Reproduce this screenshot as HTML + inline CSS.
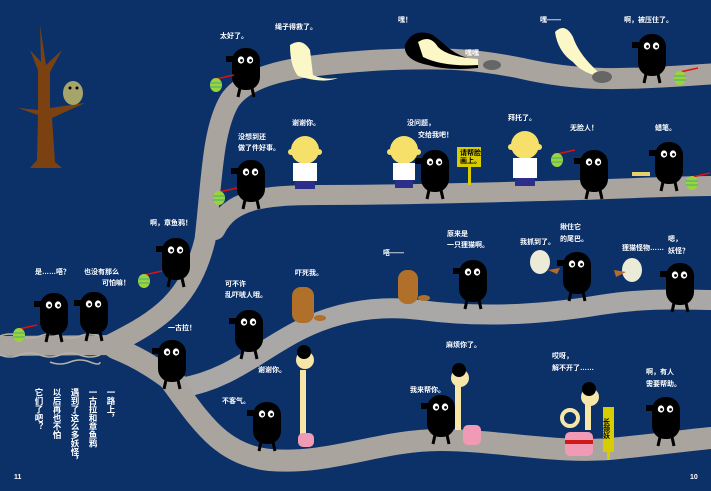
<!DOCTYPE html>
<html><head><meta charset="utf-8"><style>
html,body{margin:0;padding:0;background:#0c3169;}
svg{display:block}
text{font-family:"Liberation Sans","Noto Sans CJK SC",sans-serif;fill:#fff;font-size:7px;font-weight:bold}
.v{font-size:8.5px;writing-mode:tb;letter-spacing:0}
</style></head><body>
<svg width="711" height="491" viewBox="0 0 711 491" xmlns="http://www.w3.org/2000/svg">
<defs>
<g id="b">
<rect x="0" y="0" width="28" height="42" rx="13" fill="#000"/>
<rect x="-6" y="8" width="8" height="6" fill="#000"/>
<path d="M8 40 l-2 9 M20 40 l2 9" stroke="#000" stroke-width="3" fill="none"/>
<ellipse cx="9" cy="12" rx="3.2" ry="3.6" fill="#fff"/><ellipse cx="18" cy="12" rx="3.2" ry="3.6" fill="#fff"/>
<circle cx="9.5" cy="12.5" r="1.4" fill="#000"/><circle cx="18.5" cy="12.5" r="1.4" fill="#000"/>
</g>
<g id="lan"><line x1="0" y1="-6" x2="18" y2="-10" stroke="#d11" stroke-width="1.5"/><ellipse cx="0" cy="0" rx="6" ry="7" fill="#9ad43a"/><path d="M-6 -2h12M-6 2h12" stroke="#4a8" stroke-width="1"/></g>
<g id="head"><circle cx="0" cy="0" r="14" fill="#f6e06a"/><circle cx="-14" cy="2" r="3" fill="#f6e06a"/><circle cx="14" cy="2" r="3" fill="#f6e06a"/></g>
<g id="ghostS"><ellipse cx="0" cy="0" rx="10" ry="12" fill="#ecebd8"/></g>
</defs>
<rect width="711" height="491" fill="#0c3169"/>
<g fill="none" stroke="#aaa49e" stroke-linecap="round">
<path d="M0 346 L120 345" stroke-width="20"/>
<path d="M110 345 C160 320 190 300 205 240 C212 180 212 130 230 100 C250 72 300 65 380 60 C450 57 480 60 520 68 C580 82 620 80 711 74" stroke-width="21"/>
<path d="M215 230 C230 200 260 195 320 195 C420 195 500 192 580 190 C640 188 680 186 711 186" stroke-width="20"/>
<path d="M115 348 C150 362 170 380 185 390" stroke-width="22"/>
<path d="M180 388 C230 380 260 350 300 330 C340 310 380 305 420 310 C480 318 540 315 600 305 C650 297 690 300 711 300" stroke-width="20" stroke="#a9a8a6"/>
<path d="M170 380 C200 420 220 455 270 460 C330 465 380 440 440 440 C500 440 560 455 620 448 C660 444 690 440 711 438" stroke-width="22"/>
</g>
<path d="M0 336 q10 -4 20 0 t20 0 t20 0 t20 0 t20 0 M0 355 q10 4 20 0 t20 0 t20 0 t20 0 t20 0 M50 362 q10 4 20 0 t20 0 t10 0" stroke="#b7b2aa" stroke-width="1.5" fill="none"/>
<path d="M40 25 L46 65 L62 50 L50 72 L50 108 L85 103 L52 118 L55 162 L62 168 L30 168 L37 160 L38 115 L18 108 L38 110 L38 70 L30 50 L41 62 Z" fill="#7b4111"/>
<ellipse cx="73" cy="93" rx="10" ry="12" fill="#a5a46a"/><circle cx="70" cy="88" r="1.5" fill="#000"/><circle cx="77" cy="88" r="1.5" fill="#000"/>
<path d="M290 45 q12 -8 20 5 l3 25 q10 5 25 3 q-15 6 -40 -2 q-8 -10 -8 -31 z" fill="#fbf7c6"/>
<path d="M555 32 q10 -10 18 5 q5 15 20 30 l10 10 q-20 -3 -30 -15 q-15 -10 -18 -30z" fill="#fbf7c6"/>
<path d="M405 45 q8 -18 28 -10 l10 8 q15 15 35 17 l0 8 q-30 3 -50 -3 q-25 -5 -23 -20z" fill="#000"/>
<path d="M418 42 q12 -8 20 5 q10 10 40 12 l0 6 q-35 2 -55 -8z" fill="#fbf7c6"/>
<ellipse cx="492" cy="65" rx="9" ry="5" fill="#666"/><ellipse cx="602" cy="77" rx="10" ry="6" fill="#666"/>
<use href="#b" x="232" y="48"/><use href="#lan" x="216" y="85"/>
<use href="#b" x="237" y="160"/><use href="#lan" x="219" y="198"/>
<use href="#b" x="421" y="150"/>
<use href="#b" x="580" y="150"/><use href="#lan" x="557" y="160"/>
<use href="#b" x="655" y="142"/><use href="#lan" x="692" y="183"/>
<use href="#b" x="638" y="34"/><use href="#lan" x="680" y="78"/>
<use href="#b" x="162" y="238"/><use href="#lan" x="144" y="281"/>
<use href="#b" x="40" y="293"/><use href="#lan" x="19" y="335"/>
<use href="#b" x="80" y="292"/>
<use href="#b" x="158" y="340"/>
<use href="#b" x="235" y="310"/>
<use href="#b" x="253" y="402"/>
<use href="#b" x="459" y="260"/>
<use href="#b" x="563" y="252"/>
<use href="#b" x="666" y="263"/>
<use href="#b" x="427" y="395"/>
<use href="#b" x="652" y="397"/>
<g transform="translate(305,150)"><use href="#head"/><rect x="-12" y="13" width="24" height="18" fill="#fff"/><rect x="-10" y="31" width="20" height="8" fill="#2b2f8a"/></g>
<g transform="translate(404,150)"><use href="#head"/><rect x="-11" y="13" width="22" height="17" fill="#fff"/><rect x="-9" y="30" width="18" height="8" fill="#2b2f8a"/></g>
<g transform="translate(525,145)"><use href="#head"/><rect x="-12" y="13" width="24" height="20" fill="#fff"/><rect x="-10" y="33" width="20" height="8" fill="#2b2f8a"/></g>
<rect x="457" y="147" width="24" height="20" fill="#d6cc00"/><rect x="468" y="167" width="3" height="18" fill="#d6cc00"/>
<rect x="632" y="172" width="18" height="4" fill="#e8d06a"/>
<g fill="#b0702a"><rect x="292" y="287" width="22" height="36" rx="9"/><ellipse cx="320" cy="318" rx="6" ry="3"/><rect x="398" y="270" width="20" height="34" rx="9"/><ellipse cx="424" cy="298" rx="6" ry="3"/></g>
<use href="#ghostS" x="540" y="262"/><use href="#ghostS" x="632" y="270"/>
<path d="M548 270 l12 -2 l-3 6z M614 270 l12 2 l-10 5z" fill="#b86a2a"/>
<g fill="#f6e6a8"><rect x="300" y="370" width="6" height="65"/><rect x="455" y="385" width="6" height="45"/><circle cx="570" cy="418" r="8" fill="none" stroke="#f6e6a8" stroke-width="4"/><rect x="585" y="400" width="6" height="30"/></g>
<circle cx="305" cy="360" r="9" fill="#f6e6a8"/><circle cx="304" cy="352" r="7" fill="#000"/>
<circle cx="460" cy="378" r="9" fill="#f6e6a8"/><circle cx="459" cy="370" r="7" fill="#000"/>
<circle cx="590" cy="397" r="9" fill="#f6e6a8"/><circle cx="589" cy="389" r="7" fill="#000"/>
<rect x="298" y="433" width="16" height="14" rx="5" fill="#f09ab6"/>
<rect x="463" y="425" width="18" height="20" rx="5" fill="#f09ab6"/>
<rect x="565" y="432" width="28" height="24" rx="5" fill="#f09ab6"/><rect x="565" y="440" width="28" height="4" fill="#d01818"/>
<rect x="603" y="407" width="11" height="45" fill="#d6cc00"/><rect x="607" y="452" width="3" height="8" fill="#d6cc00"/>
<text x="35" y="274">是……唔？</text>
<text x="84" y="274">也没有那么</text><text x="102" y="285">可怕嘛！</text>
<text x="150" y="225">啊，章鱼鸦！</text>
<text x="225" y="286">可不许</text><text x="225" y="297">乱吓唬人哦。</text>
<text x="295" y="275" font-size="5">吓死我。</text>
<text x="168" y="330">一古拉！</text>
<text x="258" y="372">谢谢你。</text>
<text x="222" y="403">不客气。</text>
<text x="383" y="255" font-size="6">唔——</text>
<text x="447" y="236">原来是</text><text x="447" y="247">一只狸猫啊。</text>
<text x="520" y="244" font-size="6">我抓到了。</text>
<text x="560" y="229">揪住它</text><text x="560" y="241">的尾巴。</text>
<text x="622" y="250" font-size="5">狸猫怪物……</text>
<text x="668" y="241">嗯，</text><text x="668" y="253">妖怪？</text>
<text x="446" y="347">麻烦你了。</text>
<text x="410" y="392">我来帮你。</text>
<text x="552" y="358">哎呀，</text><text x="552" y="370">解不开了……</text>
<text x="646" y="374">啊，有人</text><text x="646" y="386">需要帮助。</text>
<text x="220" y="38">太好了。</text>
<text x="275" y="29">绳子得救了。</text>
<text x="398" y="22">嘿！</text>
<text x="465" y="55" font-size="5">嘿嘿</text>
<text x="540" y="22">嘿——</text>
<text x="624" y="22">啊，被压住了。</text>
<text x="292" y="125">谢谢你。</text>
<text x="238" y="139">没想到还</text><text x="238" y="150">做了件好事。</text>
<text x="407" y="125">没问题，</text><text x="418" y="137">交给我吧！</text>
<text x="460" y="155" font-size="5" style="fill:#000">请帮脸</text><text x="460" y="163" font-size="5" style="fill:#000">画上。</text>
<text x="508" y="120">拜托了。</text>
<text x="570" y="130">无脸人！</text>
<text x="655" y="130">蜡笔。</text>
<text x="606" y="418" font-size="7" style="fill:#000;writing-mode:tb">长颈妖</text>
<text class="v" x="111" y="388">一路上，</text>
<text class="v" x="93" y="388">一古拉和章鱼鸦</text>
<text class="v" x="75" y="388">遇到了这么多妖怪，</text>
<text class="v" x="57" y="388">以后再也不怕</text>
<text class="v" x="39" y="388">它们了吧？</text>
<text x="14" y="479" font-size="5" font-weight="normal">11</text>
<text x="690" y="479" font-size="5" font-weight="normal">10</text>
</svg>
</body></html>
